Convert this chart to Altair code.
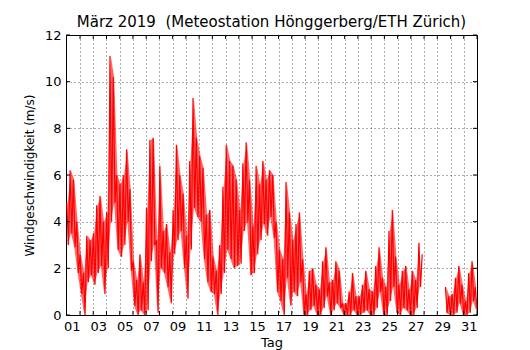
import altair as alt
import pandas as pd

TITLE = "März 2019 \u00a0(Meteostation Hönggerberg/ETH Zürich)"
Y_TITLE = "Windgeschwindigkeit (m/s)"
X_TITLE = "Tag"

# Wind speed (m/s), 8 readings per day alternating local highs / lows
# (6-hour windows: high, low). None = no data.
WEEK_1 = [  # 28 Feb .. 06 Mar
    [4.8, 3.0, 6.2, 3.5, 5.8, 2.9, 4.0, 1.8],
    [2.6, 0.9, 1.8, 0.0, 3.4, 1.4, 3.2, 1.7],
    [3.5, 1.3, 4.7, 1.8, 5.1, 2.1, 4.0, 0.9],
    [4.4, 2.0, 11.1, 4.0, 10.2, 4.8, 6.0, 2.8],
    [5.6, 2.5, 6.0, 3.0, 7.1, 4.0, 5.4, 1.9],
    [2.3, 0.4, 1.5, 0.0, 2.6, 0.2, 1.4, 0.0],
    [4.6, 0.2, 7.5, 2.3, 7.6, 3.0, 3.2, 0.1],
]
WEEK_2 = [  # 07 Mar .. 13 Mar
    [6.4, 2.0, 3.6, 1.8, 3.9, 1.2, 2.7, 0.5],
    [4.5, 2.6, 7.3, 3.2, 6.0, 3.6, 5.2, 2.0],
    [3.4, 0.7, 6.6, 2.8, 9.3, 4.6, 7.6, 4.2],
    [6.8, 4.0, 6.3, 2.4, 4.3, 1.4, 4.5, 1.0],
    [2.5, 0.9, 1.9, 0.0, 3.0, 0.9, 5.5, 1.8],
    [7.3, 2.8, 6.6, 2.4, 6.4, 2.0, 5.8, 2.1],
    [4.5, 2.2, 6.5, 3.6, 7.4, 4.0, 5.8, 1.7],
]
WEEK_3 = [  # 14 Mar .. 20 Mar
    [3.8, 1.8, 6.4, 2.6, 5.6, 3.2, 6.6, 3.9],
    [5.8, 3.4, 6.2, 4.2, 6.0, 3.3, 4.0, 1.0],
    [2.8, 0.6, 2.4, 0.0, 5.7, 1.6, 4.4, 0.4],
    [3.2, 1.0, 3.9, 0.8, 4.4, 1.4, 2.4, 0.0],
    [0.9, 0.0, 1.9, 0.2, 2.0, 0.4, 1.3, 0.0],
    [1.1, 0.0, 2.3, 0.3, 2.9, 0.8, 1.4, 0.0],
    [1.5, 0.2, 2.3, 0.5, 1.9, 0.3, 0.5, 0.0],
]
WEEK_4 = [  # 21 Mar .. 27 Mar
    [0.5, 0.0, 1.0, 0.0, 1.8, 0.2, 0.8, 0.0],
    [0.8, 0.0, 1.3, 0.1, 1.9, 0.2, 1.1, 0.0],
    [1.0, 0.0, 2.1, 0.3, 2.9, 1.0, 1.6, 0.0],
    [1.2, 0.0, 3.6, 0.6, 4.5, 1.2, 2.5, 0.1],
    [1.3, 0.0, 1.9, 0.3, 2.1, 0.2, 1.1, 0.0],
    [1.9, 0.0, 1.5, 0.3, 3.1, 1.2, 2.6, None],
    [None, None, None, None, None, None, None, None],
]
WEEK_5 = [  # 28 Mar .. 30 Mar
    [None, None, None, None, 1.2, 0.1, 0.8, 0.0],
    [0.9, 0.0, 1.6, 0.1, 2.1, 0.5, 1.3, 0.0],
    [0.6, 0.0, 1.8, 0.1, 2.3, 0.6, 1.2, 0.2],
]

X_TICKS = list(range(0, 31))          # day offsets from 1 March 00:00
Y_TICKS = [0, 2, 4, 6, 8, 10, 12]
X_DOMAIN = [-1.06, 30]
Y_DOMAIN = [0, 12]

W, H = 411, 280

values = [v for week in (WEEK_1, WEEK_2, WEEK_3, WEEK_4, WEEK_5) for day in week for v in day]
n = len(values)
t0, t1 = -1.0, 30.0
step = (t1 - t0) / (n - 1)

# line points
rows, seg, prev_none = [], 0, False
for i, v in enumerate(values):
    if v is None:
        if not prev_none:
            seg += 1
        prev_none = True
        continue
    prev_none = False
    rows.append({"t": t0 + i * step, "v": v, "seg": seg})
df = pd.DataFrame(rows)

# envelope band: each (high, low) pair of a 6-hour window
band, seg = [], 0
for k in range(0, n - 1, 2):
    hi, lo = values[k], values[k + 1]
    if hi is None or lo is None:
        seg += 1
        continue
    band.append({"t": t0 + (k + 0.5) * step, "hi": hi, "lo": lo, "seg": seg})
bf = pd.DataFrame(band)

xscale = alt.Scale(domain=X_DOMAIN, nice=False, zero=False)
yscale = alt.Scale(domain=Y_DOMAIN, nice=False)

label_expr = ("datum.value % 2 == 0 ? ((datum.value + 1 < 10 ? '0' : '') + (datum.value + 1)) : ''")
xaxis = alt.Axis(values=X_TICKS, labelExpr=label_expr, labelAlign="right",
                 labelPadding=5, tickSize=0, grid=True, titlePadding=3,
                 labelFlush=False, labelOverlap=False, title=X_TITLE)
yaxis = alt.Axis(values=Y_TICKS, tickSize=0, labelPadding=5, grid=True,
                 titlePadding=8, title=Y_TITLE)

area = alt.Chart(bf).mark_area(color="#ff0000", opacity=0.6, clip=True,
                               interpolate="linear").encode(
    x=alt.X("t:Q", scale=xscale, axis=xaxis),
    y=alt.Y("lo:Q", scale=yscale, axis=yaxis),
    y2="hi:Q",
    detail="seg:N",
)

line = alt.Chart(df).mark_line(color="#ff0000", strokeWidth=1.2, clip=True).encode(
    x=alt.X("t:Q", scale=xscale, axis=xaxis),
    y=alt.Y("v:Q", scale=yscale, axis=yaxis),
    detail="seg:N",
)

xt = pd.DataFrame({"t": X_TICKS})
yt = pd.DataFrame({"v": Y_TICKS})

x_bottom = alt.Chart(xt).mark_rule(color="black", strokeWidth=1).encode(
    x=alt.X("t:Q", scale=xscale, axis=xaxis), y=alt.value(H), y2=alt.value(H - 4))
x_top = alt.Chart(xt).mark_rule(color="black", strokeWidth=1).encode(
    x=alt.X("t:Q", scale=xscale, axis=xaxis), y=alt.value(0), y2=alt.value(4))
y_left = alt.Chart(yt).mark_rule(color="black", strokeWidth=1).encode(
    y=alt.Y("v:Q", scale=yscale, axis=yaxis), x=alt.value(0), x2=alt.value(4))
y_right = alt.Chart(yt).mark_rule(color="black", strokeWidth=1).encode(
    y=alt.Y("v:Q", scale=yscale, axis=yaxis), x=alt.value(W), x2=alt.value(W - 4))

chart = alt.layer(area, line, x_bottom, x_top, y_left, y_right).properties(
    width=W, height=H,
    title=alt.TitleParams(TITLE, fontSize=15, font="DejaVu Sans", fontWeight="normal",
                          anchor="middle", offset=-1, color="black"),
    autosize=alt.AutoSizeParams(type="none"),
    padding={"left": 58, "top": 27, "right": 45, "bottom": 38},
).configure_view(stroke="black", strokeWidth=1).configure_axis(
    labelFont="DejaVu Sans", titleFont="DejaVu Sans", labelFontSize=13, titleFontSize=12,
    titleFontWeight="normal", labelColor="black", titleColor="black",
    domain=False, gridColor="black", gridDash=[1, 3], gridOpacity=0.8, gridWidth=0.8,
).configure_axisX(titleFontSize=13)

chart.save("out.html", embed_options={"renderer": "svg", "actions": False})
